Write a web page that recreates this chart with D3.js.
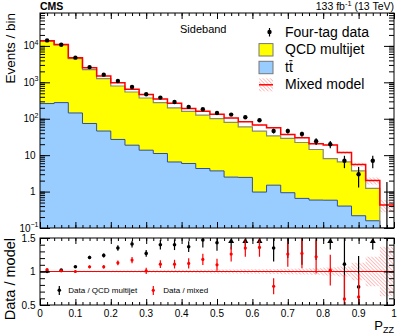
<!DOCTYPE html>
<html><head><meta charset="utf-8">
<script src="https://cdn.jsdelivr.net/npm/d3@7"></script>
<style>
body{margin:0;background:#fff}
svg{display:block}
text{font-family:"Liberation Sans",Arial,Helvetica,sans-serif;fill:#000}
</style>
</head><body>
<svg id="c" width="407" height="335"></svg>
<script>
// ---------------- data ----------------
const binEdges = [0,0.04,0.08,0.12,0.16,0.2,0.24,0.28,0.32,0.36,0.4,0.44,0.48,0.52,0.56,0.6,0.64,0.68,0.72,0.76,0.8,0.84,0.88,0.92,0.96,1.0];
const dataCounts = [14150,10790,4750,2620,1625,1085,743,469,381,289,211,182,144,130,110,91,46,46,38,24,20,7,3,7,0];
const dataErr    = [119,104,69,51,40,33,27,22,20,17,15,13.5,12,11.4,10.5,9.5,6.8,6.8,6.2,4.9,4.5,2.6,1.7,2.6,1.84];
const qcdMultijet = [13290,10320,4320,2160,1216,765,523,357,267,191.5,154,120.7,97.3,76.5,57.5,44.5,32.3,27.8,21.6,13.7,7.5,6.1,3.5,1.06,0];
const ttbar = [261,277,144,74,46,27,18.8,13.7,11.1,6.5,5.9,4.3,3.7,2.5,2.45,0.97,1.5,0.93,0.65,0.585,0.58,0.40,0.217,0.158,0];
const mixedModel = [13900,10900,4750,2500,1500,980,650,465,350,265,190,160,132,105,83,67,57,37,30,20.5,19,11.8,5.5,2.0,0.43];
const mixedRelUnc = [0.008,0.008,0.01,0.01,0.012,0.014,0.016,0.018,0.02,0.022,0.024,0.026,0.028,0.03,0.032,0.035,0.038,0.04,0.045,0.05,0.06,0.075,0.13,0.22,0.37];
const ratioQCD    = [1.00,1.02,1.07,1.21,1.24,1.35,1.41,1.27,1.40,1.40,1.37,1.47,1.43,1.65,1.83,2.00,1.35,1.55,1.60,1.62,2.40,1.11,0.77,5.70,0.00];
const ratioQCDErr = [0.010,0.012,0.017,0.025,0.03,0.04,0.05,0.05,0.07,0.08,0.08,0.11,0.12,0.14,0.17,0.20,0.20,0.35,0.50,0.45,0.55,0.62,0.46,2.20,10.0];
const ratioMixed    = [1.03,1.01,1.00,1.07,1.07,1.13,1.17,1.01,1.11,1.11,1.12,1.18,1.10,1.26,1.35,1.36,0.78,1.26,1.27,1.22,1.02,0.59,0.62,null,null];
const ratioMixedErr = [0.010,0.010,0.015,0.02,0.027,0.035,0.045,0.047,0.057,0.065,0.077,0.084,0.09,0.11,0.13,0.14,0.12,0.19,0.22,0.25,0.23,0.36,0.35,null,null];
const xTickValues = [0,0.1,0.2,0.3,0.4,0.5,0.6,0.7,0.8,0.9,1];
const xTickLabels = ["0","0.1","0.2","0.3","0.4","0.5","0.6","0.7","0.8","0.9","1"];
const yTickValues = [0.1,1,10,100,1000,10000];
const yTickLabels = [["10","\u22121"],["1",""],["10",""],["10","2"],["10","3"],["10","4"]];
const ratioTickValues = [0.5,1,1.5];
const ratioTickLabels = ["0.5","1","1.5"];
const legendLabels = ["Four-tag data","QCD multijet","tt","Mixed model"];
const ratioLegendLabels = ["Data / QCD multijet","Data / mixed"];

// ---------------- layout ----------------
const L=40,R=394,T1=13,B1=228,T2=238,B2=305;
const YMIN=0.1,YMAX=8e4;
const svg = d3.select("#c");
const x = d3.scaleLinear().domain([0,1]).range([L,R]);
const y = d3.scaleLog().domain([YMIN,YMAX]).range([B1,T1]);
const yr = d3.scaleLinear().domain([0.5,1.5]).range([B2,T2]);
const lo = binEdges.slice(0,-1), hi = binEdges.slice(1);
const ctr = lo.map((v,i)=>(v+hi[i])/2);
const cl = v => Math.max(YMIN, Math.min(YMAX, v));

const defs = svg.append("defs");
defs.append("clipPath").attr("id","clipTop").append("rect").attr("x",L).attr("y",T1).attr("width",R-L).attr("height",B1-T1);
defs.append("clipPath").attr("id","clipRat").append("rect").attr("x",L).attr("y",T2).attr("width",R-L).attr("height",B2-T2);
const pat = defs.append("pattern").attr("id","hatch").attr("patternUnits","userSpaceOnUse")
  .attr("width",2.6).attr("height",2.6).attr("patternTransform","rotate(-45)");
pat.append("line").attr("x1",0).attr("y1",0).attr("x2",0).attr("y2",2.6).attr("stroke","#ff7070").attr("stroke-width",0.9);

function stepPts(vals){ const p=[]; vals.forEach((v,i)=>{ p.push([lo[i],v,i]); p.push([hi[i],v,i]); }); return p; }

// ---------------- top panel ----------------
const gTop = svg.append("g").attr("clip-path","url(#clipTop)");
const stackTotal = qcdMultijet.map((q,i)=>q+ttbar[i]);
const area = d3.area().x(d=>x(d[0])).y0(B1).y1(d=>y(cl(d[1])));
const line = d3.line().x(d=>x(d[0])).y(d=>y(cl(d[1])));
gTop.append("path").attr("d",area(stepPts(stackTotal))).attr("fill","#ffff00");
gTop.append("path").attr("d",area(stepPts(ttbar))).attr("fill","#99ccff");
gTop.append("path").attr("d",line(stepPts(ttbar))).attr("fill","none").attr("stroke","#2f4f9f").attr("stroke-width",1);
gTop.append("path").attr("d",line(stepPts(stackTotal))).attr("fill","none").attr("stroke","#8a8a70").attr("stroke-width",1.2);
const band = d3.area().x(d=>x(d[0]))
  .y0(d=>y(cl(d[1]*(1-mixedRelUnc[d[2]])))).y1(d=>y(cl(d[1]*(1+mixedRelUnc[d[2]]))));
gTop.append("path").attr("d",band(stepPts(mixedModel))).attr("fill","url(#hatch)");
gTop.append("path").attr("d",line(stepPts(mixedModel))).attr("fill","none").attr("stroke","#ff0000").attr("stroke-width",1.5);
dataCounts.forEach((n,i)=>{
  const e = dataErr[i];
  gTop.append("line").attr("x1",x(ctr[i])).attr("x2",x(ctr[i]))
    .attr("y1",y(cl(n-e))).attr("y2",y(cl(n+e))).attr("stroke","#000").attr("stroke-width",1.2);
  if(n>0) gTop.append("circle").attr("cx",x(ctr[i])).attr("cy",y(n)).attr("r",2.2).attr("fill","#000");
});

// ---------------- ratio panel ----------------
const gR = svg.append("g").attr("clip-path","url(#clipRat)");
const rband = d3.area().x(d=>x(d[0])).y0(d=>yr(1-d[1])).y1(d=>yr(1+d[1]));
gR.append("path").attr("d",rband(stepPts(mixedRelUnc))).attr("fill","url(#hatch)");
gR.append("line").attr("x1",x(0)).attr("x2",x(1)).attr("y1",yr(1)).attr("y2",yr(1)).attr("stroke","#ff0000").attr("stroke-width",1.2);
ratioQCD.forEach((v,i)=>{
  const e = ratioQCDErr[i], cx = x(ctr[i]);
  if(v-e > 1.5){
    gR.append("line").attr("x1",cx).attr("x2",cx).attr("y1",yr(1.33)).attr("y2",yr(1.47)).attr("stroke","#000").attr("stroke-width",1.2);
    gR.append("path").attr("d",`M${cx},${yr(1.5)}L${cx-3},${yr(1.5)+5}L${cx+3},${yr(1.5)+5}Z`).attr("fill","#000");
    return;
  }
  gR.append("line").attr("x1",cx).attr("x2",cx).attr("y1",yr(Math.max(0.45,v-e))).attr("y2",yr(Math.min(1.55,v+e))).attr("stroke","#000").attr("stroke-width",1.2);
  if(v>=0.5 && v<=1.5) gR.append("circle").attr("cx",cx).attr("cy",yr(v)).attr("r",1.8).attr("fill","#000");
});
ratioMixed.forEach((v,i)=>{
  if(v===null) return;
  const e = ratioMixedErr[i], cx = x(ctr[i]);
  gR.append("line").attr("x1",cx).attr("x2",cx).attr("y1",yr(Math.max(0.45,v-e))).attr("y2",yr(Math.min(1.55,v+e))).attr("stroke","#ff0000").attr("stroke-width",1.2);
  if(v>=0.5 && v<=1.5) gR.append("circle").attr("cx",cx).attr("cy",yr(v)).attr("r",1.6).attr("fill","#ff0000");
});

// ---------------- axes / ticks ----------------
function tickAxis(axis, tx, ty, vals, size){
  const g = svg.append("g").attr("transform",`translate(${tx},${ty})`)
    .call(axis.tickValues(vals).tickSize(size).tickSizeOuter(0).tickFormat(""));
  g.select(".domain").remove();
  g.selectAll("line").attr("stroke","#000");
  g.selectAll("text").remove();
}
const xMinor = x.ticks(50);
const yMinor = y.ticks();
const rMinor = yr.ticks(10);
[[T1,B1],[T2,B2]].forEach(([t,b])=>{
  tickAxis(d3.axisTop(x), 0, b, xMinor, 3);
  tickAxis(d3.axisTop(x), 0, b, xTickValues, 6);
  tickAxis(d3.axisBottom(x), 0, t, xMinor, 3);
  tickAxis(d3.axisBottom(x), 0, t, xTickValues, 6);
});
tickAxis(d3.axisRight(y), L, 0, yMinor, 5);
tickAxis(d3.axisRight(y), L, 0, yTickValues, 10);
tickAxis(d3.axisLeft(y), R, 0, yMinor, 5);
tickAxis(d3.axisLeft(y), R, 0, yTickValues, 10);
tickAxis(d3.axisRight(yr), L, 0, rMinor, 5);
tickAxis(d3.axisRight(yr), L, 0, ratioTickValues, 10);
tickAxis(d3.axisLeft(yr), R, 0, rMinor, 5);
tickAxis(d3.axisLeft(yr), R, 0, ratioTickValues, 10);

// frames
svg.append("rect").attr("x",L).attr("y",T1).attr("width",R-L).attr("height",B1-T1).attr("fill","none").attr("stroke","#000").attr("stroke-width",1);
svg.append("rect").attr("x",L).attr("y",T2).attr("width",R-L).attr("height",B2-T2).attr("fill","none").attr("stroke","#000").attr("stroke-width",1);

// tick labels
xTickValues.forEach((v,i)=>{
  svg.append("text").attr("x",x(v)).attr("y",316.5).attr("text-anchor","middle").attr("font-size",10).text(xTickLabels[i]);
});
ratioTickValues.forEach((v,i)=>{
  svg.append("text").attr("x",35.5).attr("y",yr(v)+3.6).attr("text-anchor","end").attr("font-size",10).text(ratioTickLabels[i]);
});
yTickValues.forEach((v,i)=>{
  const [b,s] = yTickLabels[i];
  const t = svg.append("text").attr("x", s ? 38.5 : 35.5).attr("y",y(v)+3.6).attr("text-anchor","end").attr("font-size",10);
  t.append("tspan").text(b);
  if(s) t.append("tspan").attr("dy",-4.5).attr("font-size",7).text(s);
});

// axis titles
svg.append("text").attr("transform",`translate(15,${T1}) rotate(-90)`).attr("text-anchor","end").attr("font-size",13.5).text("Events / bin");
svg.append("text").attr("transform",`translate(15,${T2}) rotate(-90)`).attr("text-anchor","end").attr("font-size",14.5).text("Data / model");
const px = svg.append("text").attr("x",R).attr("y",330).attr("text-anchor","end").attr("font-size",13);
px.append("tspan").text("P");
px.append("tspan").attr("dy",3).attr("font-size",9).text("ZZ");

// header
svg.append("text").attr("x",40).attr("y",9.5).attr("font-size",10.5).attr("font-weight","bold").text("CMS");
const lumi = svg.append("text").attr("x",R).attr("y",9.5).attr("text-anchor","end").attr("font-size",10.5);
lumi.append("tspan").text("133 fb");
lumi.append("tspan").attr("dy",-3.5).attr("font-size",7.5).text("-1");
lumi.append("tspan").attr("dy",3.5).text(" (13 TeV)");
svg.append("text").attr("x",180).attr("y",33).attr("font-size",11).text("Sideband");

// legend
const lgY = [32,49.8,67.5,84.8];
const lgX0 = 259, lgW = 14, lgTx = 285;
svg.append("line").attr("x1",269.5).attr("x2",269.5).attr("y1",lgY[0]-4).attr("y2",lgY[0]+4.5).attr("stroke","#000").attr("stroke-width",1.2);
svg.append("circle").attr("cx",269.5).attr("cy",lgY[0]).attr("r",2.2).attr("fill","#000");
svg.append("rect").attr("x",lgX0).attr("y",lgY[1]-6.2).attr("width",lgW).attr("height",12.4).attr("fill","#ffff00").attr("stroke","#777").attr("stroke-width",1);
svg.append("rect").attr("x",lgX0).attr("y",lgY[2]-6.2).attr("width",lgW).attr("height",12.4).attr("fill","#99ccff").attr("stroke","#777").attr("stroke-width",1);
svg.append("rect").attr("x",lgX0).attr("y",lgY[3]-6.5).attr("width",lgW).attr("height",13).attr("fill","url(#hatch)");
svg.append("line").attr("x1",lgX0).attr("x2",lgX0+lgW).attr("y1",lgY[3]).attr("y2",lgY[3]).attr("stroke","#ff0000").attr("stroke-width",1.5);
legendLabels.forEach((s,i)=>{
  const t = svg.append("text").attr("x",lgTx).attr("y",lgY[i]+4.5).attr("font-size",14).text(s);
  if(i===2){
    const n = t.node();
    const a = n.getSubStringLength(0,1), b = n.getSubStringLength(1,1);
    svg.append("line").attr("x1",lgTx+a+0.3).attr("x2",lgTx+a+b-0.3)
      .attr("y1",lgY[i]-6.8).attr("y2",lgY[i]-6.8).attr("stroke","#000").attr("stroke-width",1);
  }
});
// ratio legend
svg.append("line").attr("x1",59.3).attr("x2",59.3).attr("y1",286).attr("y2",295).attr("stroke","#000").attr("stroke-width",1.2);
svg.append("circle").attr("cx",59.3).attr("cy",290.3).attr("r",1.8).attr("fill","#000");
svg.append("text").attr("x",68.3).attr("y",292.8).attr("font-size",8).text(ratioLegendLabels[0]);
svg.append("line").attr("x1",153.3).attr("x2",153.3).attr("y1",286).attr("y2",295).attr("stroke","#ff0000").attr("stroke-width",1.2);
svg.append("circle").attr("cx",153.3).attr("cy",290.3).attr("r",1.6).attr("fill","#ff0000");
svg.append("text").attr("x",163.3).attr("y",292.8).attr("font-size",8).text(ratioLegendLabels[1]);
</script>
</body></html>
